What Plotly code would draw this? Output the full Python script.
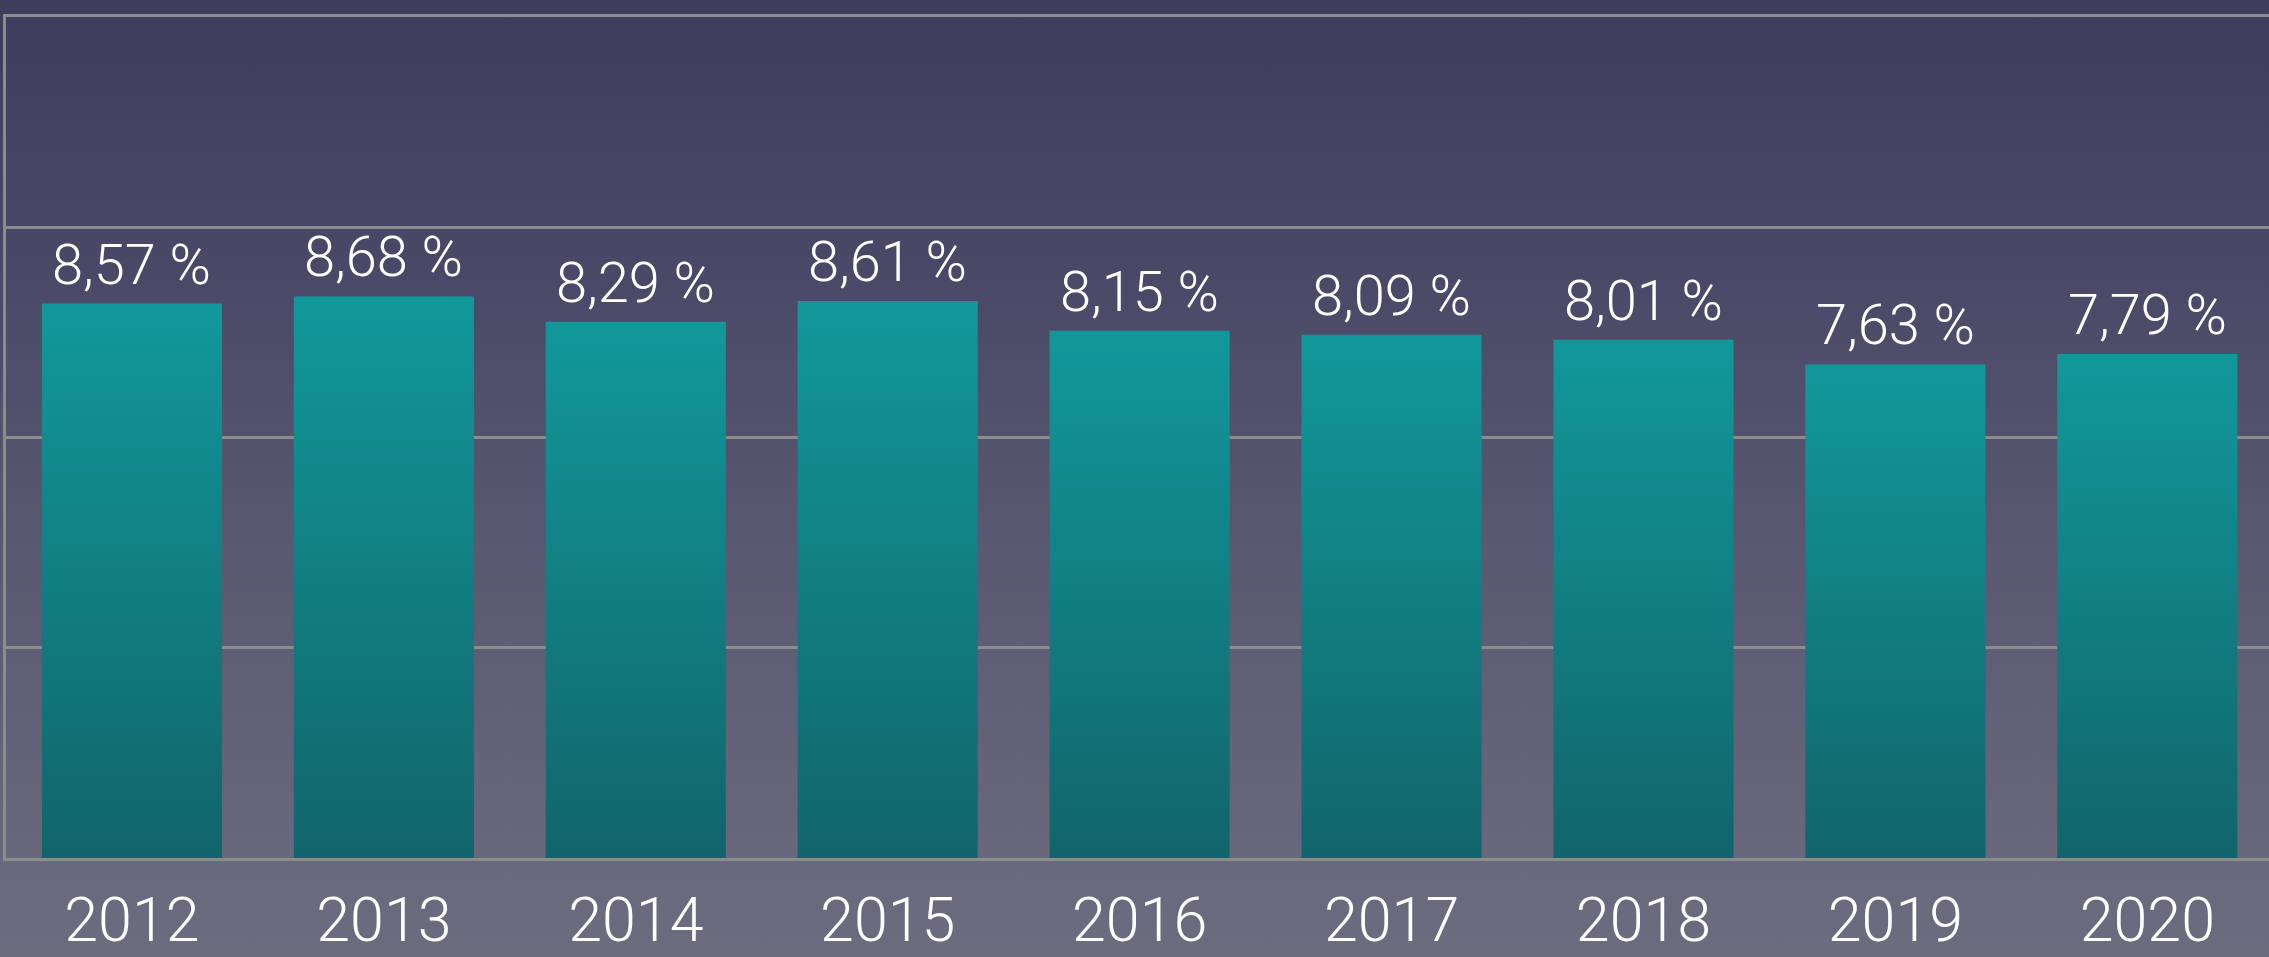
import plotly.graph_objects as go

years = ["2012", "2013", "2014", "2015", "2016", "2017", "2018", "2019", "2020"]
values = [8.57, 8.68, 8.29, 8.61, 8.15, 8.09, 8.01, 7.63, 7.79]
labels = [f"{v:.2f} %".replace(".", ",") for v in values]
y_ticks = [0, 3.25, 6.5, 9.75, 13]

W, H = 2269, 957
FONT = "Roboto, 'Liberation Sans', Arial, sans-serif"

fig = go.Figure()
fig.add_trace(go.Bar(
    x=list(range(len(years))),
    y=values,
    marker=dict(color="#118286", line=dict(width=0)),
    width=0.715,
    hoverinfo="skip",
))

for i, (v, t) in enumerate(zip(values, labels)):
    fig.add_annotation(
        x=i, y=v, text=t, showarrow=False,
        xanchor="center", yanchor="bottom", yshift=4,
        font=dict(family=FONT, size=56, color="white", weight=300),
    )

fig.update_layout(
    width=W, height=H,
    margin=dict(l=6, r=0, t=17, b=99, autoexpand=False),
    paper_bgcolor="rgba(0,0,0,0)",
    plot_bgcolor="rgba(0,0,0,0)",
    showlegend=False,
    xaxis=dict(
        range=[-0.5, 8.483],
        tickmode="array",
        tickvals=list(range(len(years))),
        ticktext=years,
        tickfont=dict(family=FONT, size=61, color="white", weight=300),
        showgrid=False, zeroline=False,
        showline=True, linecolor="#8c8c8c", linewidth=2.5, mirror=True,
        ticks="", ticklabelstandoff=7, automargin=False,
    ),
    yaxis=dict(
        range=[0, 13],
        tickmode="array",
        tickvals=y_ticks,
        showticklabels=False,
        showgrid=True, gridcolor="#8c8c8c", gridwidth=2.5,
        zeroline=False,
        showline=True, linecolor="#8c8c8c", linewidth=2.5,
        ticks="", automargin=False,
    ),
)

post = """
var gd = document.getElementById('{plot_id}');
document.body.style.margin = '0';
document.body.style.background = '#6c6b7e';
gd.style.background = 'linear-gradient(to bottom, #3d3d5c 0%, #4a4a68 30%, #5b5a72 60%, #6d6c7f 100%)';
function applyGrad(){
  var svg = gd.querySelector('svg.main-svg');
  if(!svg) return;
  var defs = svg.querySelector('defs');
  var ns = 'http://www.w3.org/2000/svg';
  if(!defs){ defs = document.createElementNS(ns,'defs'); svg.insertBefore(defs, svg.firstChild); }
  if(!document.getElementById('bargrad')){
    var lg = document.createElementNS(ns,'linearGradient');
    lg.setAttribute('id','bargrad');
    lg.setAttribute('x1','0'); lg.setAttribute('y1','0');
    lg.setAttribute('x2','0'); lg.setAttribute('y2','1');
    var s1 = document.createElementNS(ns,'stop');
    s1.setAttribute('offset','0'); s1.setAttribute('stop-color','#12989a');
    var s2 = document.createElementNS(ns,'stop');
    s2.setAttribute('offset','1'); s2.setAttribute('stop-color','#11656a');
    lg.appendChild(s1); lg.appendChild(s2);
    defs.appendChild(lg);
  }
  gd.querySelectorAll('.barlayer .point path').forEach(function(p){
    p.style.fill = 'url(#bargrad)';
  });
}
applyGrad();
if (gd.on) gd.on('plotly_afterplot', applyGrad);
"""

fig.write_html("out.html", post_script=post, config={"displayModeBar": False})
